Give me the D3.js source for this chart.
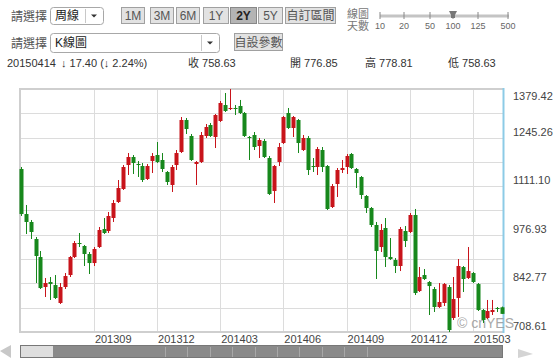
<!DOCTYPE html>
<html>
<head>
<meta charset="utf-8">
<script src="https://cdn.jsdelivr.net/npm/d3@7"></script>
<style>
  body { margin: 0; background: #fff; }
  text { font-family: "Liberation Sans", "Noto Sans CJK TC", sans-serif; }
</style>
</head>
<body>
<svg id="chart" width="553" height="359"></svg>
<script>
// weekly candles, first week starting 2013-05-20
const firstWeek = "2013-05-20";
const openVals = [1158.6,1034.3,1012.3,965.3,915.6,832.8,846.6,838.3,788.7,832.8,
  865.9,915.6,954.3,946.0,923.9,899.0,943.2,992.9,987.4,1023.3,
  1067.5,1103.4,1169.6,1191.7,1172.4,1166.8,1131.0,1180.6,1197.2,1183.4,
  1150.3,1114.4,1169.6,1205.5,1293.8,1249.7,1172.4,1177.9,1249.7,1280.0,
  1246.9,1291.1,1335.2,1324.2,1327.0,1332.5,1313.2,1246.9,1252.4,1222.1,
  1235.9,1188.9,1097.8,1177.9,1230.3,1313.2,1271.8,1293.8,1211.0,1244.2,
  1166.8,1164.1,1211.0,1166.8,1053.7,1117.2,1155.8,1164.1,1200.0,1158.6,
  1136.5,1084.0,1050.9,1004.0,943.2,995.7,915.6,907.3,890.8,987.4,
  984.7,1031.6,821.7,865.9,846.6,827.3,777.6,788.7,832.8,747.3,
  802.5,888.0,857.6,871.4,841.0,769.3,747.3,763.8,774.9,776.85];
const highVals = [1164.1,1059.2,1017.8,970.9,932.2,857.6,860.4,865.9,843.8,871.4,
  918.4,959.8,981.9,948.8,929.4,943.2,998.5,1023.3,1039.9,1073.0,
  1128.2,1169.6,1202.7,1197.2,1180.6,1175.1,1172.4,1202.7,1233.1,1202.7,
  1153.0,1169.6,1211.0,1302.1,1299.4,1255.2,1180.6,1260.7,1282.8,1285.6,
  1310.4,1346.3,1368.4,1379.42,1335.2,1349.1,1315.9,1249.7,1260.7,1244.2,
  1241.4,1194.5,1169.6,1230.3,1304.9,1327.0,1304.9,1296.6,1252.4,1249.7,
  1188.9,1219.3,1219.3,1169.6,1117.2,1161.3,1183.4,1200.0,1202.7,1161.3,
  1139.2,1086.8,1053.7,1012.3,1006.7,1023.3,968.1,912.8,998.5,1001.2,
  1037.1,1048.2,888.0,882.5,849.3,832.8,843.8,843.8,838.3,860.4,
  910.1,890.8,943.2,874.2,843.8,772.1,797.0,797.0,777.6,778.81];
const lowVals = [1028.8,979.1,965.3,843.8,827.3,805.2,797.0,799.7,785.9,827.3,
  860.4,912.8,943.2,890.8,868.7,890.8,940.5,979.1,981.9,1012.3,
  1064.7,1100.6,1142.0,1144.8,1136.5,1122.7,1128.2,1147.5,1175.1,1150.3,
  1114.4,1095.1,1155.8,1202.7,1255.2,1180.6,1114.4,1175.1,1244.2,1246.9,
  1216.5,1288.3,1315.9,1321.4,1307.6,1310.4,1246.9,1183.4,1211.0,1188.9,
  1188.9,1086.8,1064.7,1166.8,1227.6,1269.0,1246.9,1202.7,1208.3,1142.0,
  1150.3,1142.0,1150.3,1045.4,1050.9,1081.3,1147.5,1144.8,1158.6,1106.1,
  1075.8,1037.1,998.5,854.9,929.4,888.0,907.3,871.4,876.9,943.2,
  981.9,810.7,819.0,852.1,755.5,763.8,774.9,780.4,708.61,741.8,
  750.0,819.0,854.9,843.8,766.6,733.5,744.5,755.5,763.8,758.63];
const closeVals = [1034.3,1012.3,984.7,918.4,830.0,843.8,841.0,802.5,832.8,863.1,
  915.6,954.3,951.5,923.9,899.0,937.7,990.2,981.9,1028.8,1064.7,
  1106.1,1164.1,1191.7,1175.1,1169.6,1128.2,1166.8,1194.5,1177.9,1158.6,
  1122.7,1164.1,1202.7,1293.8,1269.0,1183.4,1177.9,1252.4,1274.5,1249.7,
  1307.6,1340.8,1318.7,1327.0,1324.2,1313.2,1249.7,1244.2,1219.3,1238.6,
  1191.7,1089.6,1166.8,1219.3,1302.1,1271.8,1302.1,1230.3,1244.2,1155.8,
  1164.1,1213.8,1164.1,1048.2,1111.6,1155.8,1161.3,1194.5,1161.3,1147.5,
  1086.8,1050.9,1004.0,932.2,990.2,915.6,910.1,890.8,992.9,959.8,
  1031.6,816.2,860.4,854.9,835.5,777.6,791.4,841.0,714.1,799.7,
  890.8,854.9,876.9,846.6,769.3,741.8,766.6,769.3,772.1,758.63];

const yTickVals = [708.61, 842.77, 976.93, 1111.10, 1245.26, 1379.42];
const xTickLabels = ["201309", "201312", "201403", "201406", "201409", "201412", "201503"];
const rangeButtons = ["1M", "3M", "6M", "1Y", "2Y", "5Y", "自訂區間"];
const dayLabels = ["10", "20", "50", "100", "125", "500"];
const infoItems = ["收 758.63", "開 776.85", "高 778.81", "低 758.63"];

const svg = d3.select("#chart");
const red = "#c8141b", green = "#17881c", txt = "#333";

// ---------- toolbar ----------
function label(x, y, s, size, fill) {
  return svg.append("text").attr("x", x).attr("y", y).attr("font-size", size || 11)
    .attr("fill", fill || txt).text(s);
}
function dropdown(x, y, w, h, s) {
  svg.append("rect").attr("x", x + 0.5).attr("y", y + 0.5).attr("width", w).attr("height", h)
    .attr("rx", 3).attr("fill", "#fff").attr("stroke", "#a8a8a8");
  svg.append("line").attr("x1", x + w - 17.5).attr("x2", x + w - 17.5)
    .attr("y1", y + 2).attr("y2", y + h - 1).attr("stroke", "#c8c8c8");
  svg.append("path").attr("d", `M${x + w - 12},${y + h / 2 - 1}l6,0l-3,3z`).attr("fill", "#333");
  label(x + 5, y + h / 2 + 4.5, s, 12, "#222");
}

label(11, 21, "請選擇", 12, "#555");
dropdown(50, 7, 53, 17, "周線");
label(11, 48, "請選擇", 12, "#555");
dropdown(50, 33, 169, 19, "K線圖");

const btnX = [121, 150, 176, 203, 230, 258, 285];
const btnW = [23, 23, 23, 25, 26, 24, 50];
rangeButtons.forEach((b, i) => {
  const on = b === "2Y";
  svg.append("rect").attr("x", btnX[i] + 0.5).attr("y", 7.5).attr("width", btnW[i]).attr("height", 16)
    .attr("fill", on ? "#b4b4b4" : "#e2e2e2").attr("stroke", on ? "#888" : "#a0a0a0");
  svg.append("text").attr("x", btnX[i] + btnW[i] / 2 + 0.5).attr("y", 20)
    .attr("text-anchor", "middle").attr("font-size", 12)
    .attr("font-weight", on ? "bold" : "normal").attr("fill", on ? "#222" : "#555").text(b);
});
svg.append("rect").attr("x", 234.5).attr("y", 33.5).attr("width", 48).attr("height", 17)
  .attr("fill", "#e2e2e2").attr("stroke", "#a0a0a0");
svg.append("text").attr("x", 258.5).attr("y", 46.5).attr("text-anchor", "middle")
  .attr("font-size", 12).attr("fill", "#555").text("自設參數");

label(347, 18, "線圖", 11, "#777");
label(347, 30, "天數", 11, "#777");
const dayX = [380, 404, 430, 453, 478, 508];
svg.append("line").attr("x1", 380).attr("x2", 509).attr("y1", 16).attr("y2", 16)
  .attr("stroke", "#c4c4c4").attr("stroke-width", 3);
dayLabels.forEach((d, i) => {
  svg.append("line").attr("x1", dayX[i]).attr("x2", dayX[i]).attr("y1", 12).attr("y2", 19)
    .attr("stroke", "#888");
  svg.append("text").attr("x", dayX[i]).attr("y", 29).attr("text-anchor", "middle")
    .attr("font-size", 9).attr("fill", "#666").text(d);
});
svg.append("path").attr("d", "M449,11L457,11L455,15L455,18L451,18L451,15Z").attr("fill", "#777");

label(7, 67, "20150414");
label(61, 67, "↓ 17.40 (↓ 2.24%)");
[188, 290, 365, 448].forEach((x, i) => label(x, 67, infoItems[i]));

// ---------- plot ----------
const n = openVals.length;
const plotTop = 89, plotBottom = 332, plotLeft = 20, plotRight = 503;
const start = d3.timeParse("%Y-%m-%d")(firstWeek);
const weeks = d3.range(n).map(i => d3.timeWeek.offset(start, i));
const x = d3.scaleLinear().domain([0, n - 1]).range([21, 502]);
const yMin = yTickVals[0], yMax = yTickVals[yTickVals.length - 1];
const y = d3.scaleLinear().domain([yMin, yMax]).range([plotBottom, plotTop]);

const gridVals = d3.range(11).map(i => yMin + i * (yMax - yMin) / 10);
svg.append("g").selectAll("line").data(gridVals).join("line")
  .attr("x1", plotLeft).attr("x2", plotRight)
  .attr("y1", d => Math.round(y(d)) + 0.5).attr("y2", d => Math.round(y(d)) + 0.5)
  .attr("stroke", "#dcdcdc");

const fmt = d3.timeFormat("%Y%m");
const xTickIdx = xTickLabels.map(l => weeks.findIndex(w => fmt(w) === l));
svg.append("g").selectAll("line").data(xTickIdx).join("line")
  .attr("x1", d => Math.round(x(d)) + 0.5).attr("x2", d => Math.round(x(d)) + 0.5)
  .attr("y1", plotTop).attr("y2", plotBottom).attr("stroke", "#dcdcdc");
svg.append("g").selectAll("text").data(xTickIdx).join("text")
  .attr("x", d => x(d) + 1).attr("y", 343).attr("font-size", 11).attr("fill", "#444")
  .text((d, i) => xTickLabels[i]);

svg.append("g").selectAll("text").data(yTickVals).join("text")
  .attr("x", 513).attr("y", d => Math.max(y(d) - 2, 100)).attr("font-size", 11).attr("fill", "#444")
  .text(d => d.toFixed(2));

// borders
svg.append("path").attr("d", `M${plotRight},${plotTop}L${plotLeft},${plotTop}L${plotLeft},${plotBottom}L${plotRight},${plotBottom}`)
  .attr("fill", "none").attr("stroke", "#cfcfcf").attr("stroke-width", 2);
svg.append("line").attr("x1", plotRight + 0.5).attr("x2", plotRight + 0.5)
  .attr("y1", plotTop - 1).attr("y2", plotBottom + 1)
  .attr("stroke", "#8ccbe6").attr("stroke-width", 2);

svg.append("text").attr("x", 457).attr("y", 328).attr("font-size", 14).attr("fill", "#9a9a9a")
  .attr("opacity", 0.85).text("© cnYES");

const candles = svg.append("g").selectAll("g").data(d3.range(n)).join("g")
  .attr("fill", i => closeVals[i] >= openVals[i] ? red : green)
  .attr("stroke", i => closeVals[i] >= openVals[i] ? red : green);
candles.append("line")
  .attr("x1", i => Math.round(x(i)) + 0.5).attr("x2", i => Math.round(x(i)) + 0.5)
  .attr("y1", i => y(highVals[i])).attr("y2", i => y(lowVals[i]));
candles.append("rect")
  .attr("x", i => Math.round(x(i)) - 1.5).attr("width", 4)
  .attr("y", i => y(Math.max(openVals[i], closeVals[i])))
  .attr("height", i => Math.max(1, Math.abs(y(openVals[i]) - y(closeVals[i]))))
  .attr("stroke", "none");

// ---------- scrollbar ----------
svg.append("path").attr("d", "M0,351L11,345L11,358Z").attr("fill", "#c8c8c8");
svg.append("rect").attr("x", 20.5).attr("y", 345.5).attr("width", 482).attr("height", 12)
  .attr("fill", "#8a8a8a").attr("stroke", "#777");
svg.append("rect").attr("x", 21).attr("y", 346).attr("width", 32).attr("height", 11).attr("fill", "#dedede");
d3.range(165, 370, 22.4).forEach(v => {
  svg.append("line").attr("x1", Math.round(v) + 0.5).attr("x2", Math.round(v) + 0.5)
    .attr("y1", 347).attr("y2", 357).attr("stroke", "#a8a8a8");
});
svg.append("path").attr("d", "M518,349L533,354L518,358Z").attr("fill", "#d4d4d4");
</script>
</body>
</html>
